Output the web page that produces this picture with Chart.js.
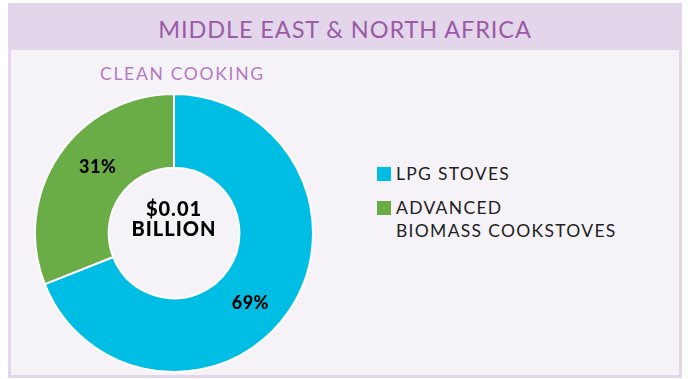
<!DOCTYPE html>
<html>
<head>
<meta charset="utf-8">
<script src="https://cdn.jsdelivr.net/npm/chart.js@4.4.1/dist/chart.umd.min.js"></script>
<style>
  html, body { margin: 0; padding: 0; background: #ffffff; }
  body { width: 688px; height: 379px; position: relative; overflow: hidden; font-family: Lato, "Open Sans", sans-serif; }
  .frame { position: absolute; left: 8px; top: 3px; width: 674px; height: 375px; background: #e3d6ea; }
  .title { position: absolute; left: 0; top: 0; width: 100%; height: 47px; line-height: 52px; text-align: center;
           font-size: 23.5px; color: #9a5aa6; letter-spacing: 0.9px; }
  .panel { position: absolute; left: 3px; top: 47px; right: 3px; bottom: 3px; background: #f5f2f8; }
  .subtitle { position: absolute; left: 100px; top: 63px; font-size: 17.5px; color: #b47cc0; letter-spacing: 1.7px; }
  #pie { position: absolute; left: 34px; top: 93px; }
  .legend { position: absolute; left: 377px; top: 162px; font-size: 17.5px; color: #231f20; letter-spacing: 1.3px; }
  .legend .item { position: relative; padding-left: 19px; line-height: 23px; margin-bottom: 11px; }
  .legend .sw { position: absolute; left: 0; top: 5px; width: 14px; height: 14px; }
</style>
</head>
<body>
<div class="frame">
  <div class="title">MIDDLE EAST &amp; NORTH AFRICA</div>
  <div class="panel"></div>
</div>
<div class="subtitle">CLEAN COOKING</div>
<canvas id="pie" width="280" height="280"></canvas>
<div class="legend" id="legend"></div>

<script>
const categories = ['LPG STOVES', 'ADVANCED\nBIOMASS COOKSTOVES'];
const shares = [69, 31];
const colors = ['#00bee3', '#6aad47'];
const totalLines = ['$0.01', 'BILLION'];

// legend built from the same arrays
const legend = document.getElementById('legend');
categories.forEach((name, i) => {
      const item = document.createElement('div');
      item.className = 'item';
      item.innerHTML = '<span class="sw" style="background:' + colors[i] + '"></span>' + name.replace('\n', '<br>');
      legend.appendChild(item);
});

// percentage labels on each slice plus the total in the hole
const sliceLabels = {
      id: 'sliceLabels',
      afterDatasetsDraw(chart) {
            const ctx = chart.ctx;
            const meta = chart.getDatasetMeta(0);
            ctx.save();
            ctx.fillStyle = '#000000';
            ctx.textAlign = 'center';
            ctx.textBaseline = 'middle';
            ctx.font = '900 18px Lato, sans-serif';
            ctx.letterSpacing = '0.5px';
            meta.data.forEach((arc, i) => {
                  // nudge a little clockwise from the slice middle
                  const a = (arc.startAngle + arc.endAngle) / 2 + 0.13;
                  const r = (arc.innerRadius + arc.outerRadius) / 2;
                  ctx.fillText(shares[i] + '%', arc.x + Math.cos(a) * r, arc.y + Math.sin(a) * r + 2);
            });
            const cx = meta.data[0].x;
            const cy = meta.data[0].y;
            ctx.font = '900 20px Lato, sans-serif';
            ctx.letterSpacing = '1px';
            ctx.fillText(totalLines[0], cx, cy - 23);
            ctx.fillText(totalLines[1], cx, cy - 3);
            ctx.restore();
      }
};

new Chart(document.getElementById('pie'), {
      type: 'doughnut',
      data: {
            labels: categories,
            datasets: [{
                  data: shares,
                  backgroundColor: colors,
                  borderColor: '#ffffff',
                  borderWidth: 2
            }]
      },
      options: {
            responsive: false,
            animation: false,
            devicePixelRatio: 1,
            cutout: '47%',
            plugins: {
                  legend: { display: false },
                  tooltip: { enabled: false }
            }
      },
      plugins: [sliceLabels]
});
</script>
</body>
</html>
